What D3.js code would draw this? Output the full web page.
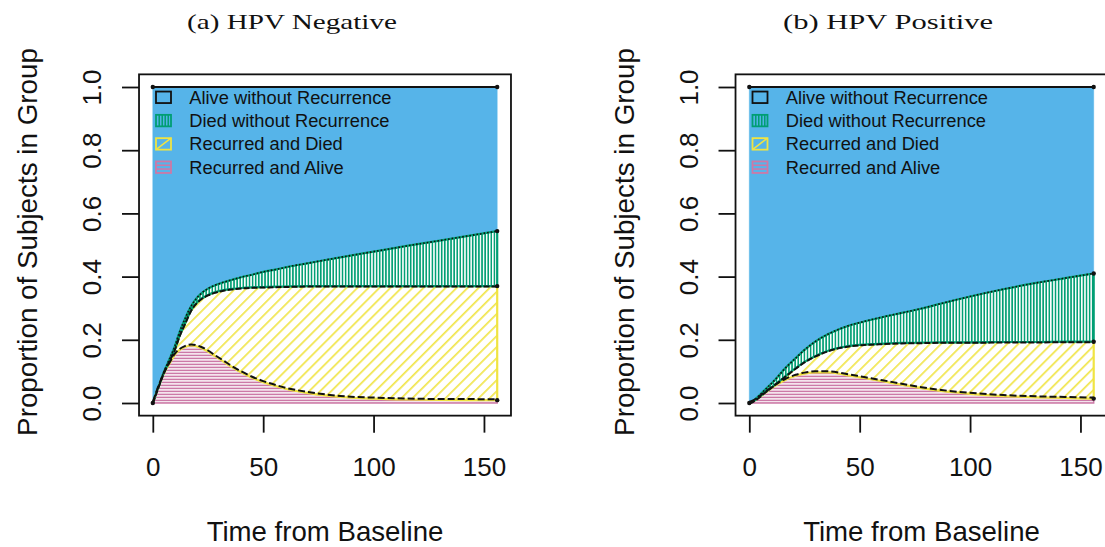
<!DOCTYPE html>
<html>
<head>
<meta charset="utf-8">
<script src="https://cdn.jsdelivr.net/npm/d3@7"></script>
<style>
  html, body { margin: 0; padding: 0; background: #fff; }
  svg { display: block; }
</style>
</head>
<body>
<svg id="chart" width="1105" height="547"></svg>
<script>
// ---------------- DATA ----------------
// Time grid (months from baseline) and cumulative stacked proportions.
// recAlive  = top of "Recurred and Alive"
// recDied   = top of "Recurred and Died" (cumulative)
// diedNoRec = top of "Died without Recurrence" (cumulative); above it: "Alive without Recurrence" up to 1
const negTimes     = [0, 1, 2, 3.3, 4.5, 5.5, 7, 8, 10, 12, 14.5, 17.5, 20, 22, 25, 28, 32, 36, 40, 45, 50, 56, 62, 70, 77, 85, 100, 115, 130, 156];
const negRecAlive  = [0, 0.02, 0.04, 0.063, 0.085, 0.1, 0.118, 0.13, 0.153, 0.167, 0.177, 0.182, 0.179, 0.174, 0.163, 0.149, 0.131, 0.113, 0.097, 0.08, 0.066, 0.053, 0.042, 0.032, 0.025, 0.019, 0.014, 0.011, 0.0095, 0.009];
const negRecDied   = [0, 0.02, 0.04, 0.064, 0.087, 0.103, 0.125, 0.14, 0.17, 0.21, 0.25, 0.295, 0.318, 0.33, 0.342, 0.35, 0.357, 0.361, 0.364, 0.366, 0.367, 0.368, 0.369, 0.37, 0.37, 0.37, 0.37, 0.37, 0.37, 0.37];
const negDiedNoRec = [0, 0.02, 0.041, 0.065, 0.089, 0.106, 0.13, 0.146, 0.18, 0.222, 0.265, 0.308, 0.333, 0.347, 0.362, 0.372, 0.382, 0.39, 0.398, 0.406, 0.415, 0.423, 0.432, 0.442, 0.451, 0.461, 0.479, 0.497, 0.514, 0.544];

const posTimes     = [0, 2, 4, 7, 11.6, 16, 21, 25, 30, 36, 43, 52, 61, 69, 78, 87, 100, 115, 130, 143, 156];
const posRecAlive  = [0, 0.006, 0.015, 0.031, 0.054, 0.072, 0.086, 0.093, 0.097, 0.097, 0.09, 0.079, 0.068, 0.058, 0.047, 0.038, 0.029, 0.022, 0.018, 0.016, 0.014];
const posRecDied   = [0, 0.006, 0.016, 0.033, 0.058, 0.083, 0.11, 0.13, 0.149, 0.166, 0.178, 0.185, 0.188, 0.19, 0.191, 0.192, 0.192, 0.193, 0.193, 0.194, 0.194];
const posDiedNoRec = [0, 0.008, 0.02, 0.041, 0.073, 0.108, 0.142, 0.168, 0.195, 0.219, 0.24, 0.258, 0.273, 0.285, 0.299, 0.315, 0.337, 0.36, 0.38, 0.395, 0.41];

const panelTitles  = ["(a) HPV Negative", "(b) HPV Positive"];
const legendLabels = ["Alive without Recurrence", "Died without Recurrence", "Recurred and Died", "Recurred and Alive"];
const xTicks       = [0, 50, 100, 150];
const yTicks       = [0, 0.2, 0.4, 0.6, 0.8, 1.0];
const yTickLabels  = ["0.0", "0.2", "0.4", "0.6", "0.8", "1.0"];
const xLabel = "Time from Baseline";
const yLabel = "Proportion of Subjects in Group";
const tMax = 156;

// ---------------- STYLE ----------------
const COL = { blue: "#56B4E9", green: "#009E73", yellow: "#F0E442", pink: "#CC79A7" };
const SANS = "'Liberation Sans', Arial, Helvetica, sans-serif";
const SERIF = "'Liberation Serif', 'DejaVu Serif', serif";

const svg = d3.select("#chart");
const defs = svg.append("defs");

// hatch patterns
const pPink = defs.append("pattern").attr("id", "hPink").attr("patternUnits", "userSpaceOnUse")
  .attr("width", 10).attr("height", 3);
pPink.append("rect").attr("width", 10).attr("height", 3).attr("fill", "#fff");
pPink.append("rect").attr("y", 0.6).attr("width", 10).attr("height", 1.6).attr("fill", COL.pink);

const pGreen = defs.append("pattern").attr("id", "hGreen").attr("patternUnits", "userSpaceOnUse")
  .attr("width", 3.1).attr("height", 10);
pGreen.append("rect").attr("width", 3.1).attr("height", 10).attr("fill", "#fff");
pGreen.append("rect").attr("x", 0.7).attr("width", 1.6).attr("height", 10).attr("fill", COL.green);

const pYellow = defs.append("pattern").attr("id", "hYellow").attr("patternUnits", "userSpaceOnUse")
  .attr("width", 10).attr("height", 7.8).attr("patternTransform", "rotate(-45)");
pYellow.append("rect").attr("width", 10).attr("height", 7.8).attr("fill", "#fff");
pYellow.append("rect").attr("y", 3).attr("width", 10).attr("height", 1.6).attr("fill", COL.yellow);

const panels = [
  { off: 0,     title: panelTitles[0], t: negTimes, c1: negRecAlive, c2: negRecDied, c3: negDiedNoRec, titleX: 292 },
  { off: 596.5, title: panelTitles[1], t: posTimes, c1: posRecAlive, c2: posRecDied, c3: posDiedNoRec, titleX: 888 }
];

panels.forEach(p => {
  const g = svg.append("g");
  const x = d3.scaleLinear().domain([0, tMax]).range([152.8 + p.off, 497.2 + p.off]);
  const y = d3.scaleLinear().domain([0, 1]).range([403, 87]);
  const bx0 = x(-0.04 * tMax), bx1 = x(1.04 * tMax), by0 = y(1.04), by1 = y(-0.04);

  const idx = d3.range(p.t.length);
  const curve = d3.curveMonotoneX;
  const area = (lo, hi) => d3.area().curve(curve).x(i => x(p.t[i])).y0(i => y(lo(i))).y1(i => y(hi(i)));
  const line = (f) => d3.line().curve(curve).x(i => x(p.t[i])).y(i => y(f(i)));

  // Alive without recurrence (blue)
  g.append("path").attr("d", area(i => p.c3[i], i => 1)(idx)).attr("fill", COL.blue).attr("stroke", COL.blue).attr("stroke-width", 0.5);
  // Recurred and alive (pink)
  g.append("path").attr("d", area(i => 0, i => p.c1[i])(idx)).attr("fill", "url(#hPink)")
    .attr("stroke", COL.pink).attr("stroke-width", 1.5);
  // Recurred and died (yellow)
  g.append("path").attr("d", area(i => p.c1[i], i => p.c2[i])(idx)).attr("fill", "url(#hYellow)")
    .attr("stroke", COL.yellow).attr("stroke-width", 2.2);
  // Died without recurrence (green)
  g.append("path").attr("d", area(i => p.c2[i], i => p.c3[i])(idx)).attr("fill", "url(#hGreen)")
    .attr("stroke", COL.green).attr("stroke-width", 2.2);

  // boundary lines
  g.append("path").attr("d", line(i => p.c1[i])(idx)).attr("fill", "none").attr("stroke", "#111")
    .attr("stroke-width", 2).attr("stroke-dasharray", "7,3").attr("transform", "translate(0,-1)");
  g.append("path").attr("d", line(i => p.c2[i])(idx)).attr("fill", "none").attr("stroke", "#111")
    .attr("stroke-width", 2).attr("stroke-dasharray", "6,2").attr("transform", "translate(0,0.5)");
  g.append("path").attr("d", line(i => p.c3[i])(idx)).attr("fill", "none").attr("stroke", "#111")
    .attr("stroke-width", 1.6).attr("stroke-dasharray", "1.6,2");
  g.append("path").attr("d", line(i => 1)(idx)).attr("fill", "none").attr("stroke", "#111").attr("stroke-width", 2.2);

  // end points
  const last = p.t.length - 1;
  const pts = [[0, 0], [0, 1], [p.t[last], 1], [p.t[last], p.c1[last]], [p.t[last], p.c2[last]], [p.t[last], p.c3[last]]];
  g.selectAll("circle.pt").data(pts).enter().append("circle").attr("class", "pt")
    .attr("cx", d => x(d[0])).attr("cy", d => y(d[1])).attr("r", 2.2).attr("fill", "#111");

  // frame
  g.append("rect").attr("x", bx0).attr("y", by0).attr("width", bx1 - bx0).attr("height", by1 - by0)
    .attr("fill", "none").attr("stroke", "#111").attr("stroke-width", 1.8);

  // x axis
  const xa = g.append("g").attr("transform", `translate(0,${by1})`)
    .call(d3.axisBottom(x).tickValues(xTicks).tickSize(17).tickFormat(d3.format("d")));
  xa.select(".domain").remove();
  xa.selectAll("line").attr("stroke", "#111").attr("stroke-width", 1.8);
  xa.selectAll("text").attr("y", 476 - by1).attr("dy", 0).attr("fill", "#111")
    .style("font-family", SANS).style("font-size", "26px");

  // y axis
  const ya = g.append("g").attr("transform", `translate(${bx0},0)`)
    .call(d3.axisLeft(y).tickValues(yTicks).tickSize(17).tickFormat((d, i) => yTickLabels[i]));
  ya.select(".domain").remove();
  ya.selectAll("line").attr("stroke", "#111").attr("stroke-width", 1.8);
  ya.selectAll("text").attr("x", 0).attr("y", 0).attr("dy", 0)
    .attr("transform", `translate(${101 + p.off - bx0},0) rotate(-90)`)
    .attr("text-anchor", "middle").attr("fill", "#111")
    .style("font-family", SANS).style("font-size", "26px");

  // axis titles
  g.append("text").attr("x", (bx0 + bx1) / 2).attr("y", 541).attr("text-anchor", "middle")
    .style("font-family", SANS).style("font-size", "27.6px").attr("fill", "#111").text(xLabel);
  g.append("text").attr("transform", `translate(${37 + p.off},${(by0 + by1) / 2 - 3}) rotate(-90)`)
    .attr("text-anchor", "middle").style("font-family", SANS).style("font-size", "27.8px").attr("fill", "#111").text(yLabel);

  // panel title
  g.append("text").attr("x", p.titleX).attr("y", 29).attr("text-anchor", "middle")
    .style("font-family", SERIF).style("font-size", "22px").attr("fill", "#111")
    .attr("textLength", 210).attr("lengthAdjust", "spacingAndGlyphs").text(p.title);

  // legend
  const lg = g.append("g");
  const lx = 156 + p.off, tx = 189.3 + p.off;
  legendLabels.forEach((lab, i) => {
    const cy = 97.3 + i * 23.3;
    const bw = 15, bh = 11.5, x0 = lx, y0 = cy - bh / 2;
    if (i === 0) {
      lg.append("rect").attr("x", x0).attr("y", y0).attr("width", bw).attr("height", bh)
        .attr("fill", "none").attr("stroke", "#111").attr("stroke-width", 1.8);
    } else if (i === 1) {
      [0.25, 0.45, 0.65, 0.85].forEach(f => {
        lg.append("line").attr("x1", x0 + bw * f - 0.5).attr("x2", x0 + bw * f - 0.5).attr("y1", y0).attr("y2", y0 + bh)
          .attr("stroke", COL.green).attr("stroke-width", 1.6);
      });
      lg.append("rect").attr("x", x0).attr("y", y0).attr("width", bw).attr("height", bh)
        .attr("fill", "none").attr("stroke", COL.green).attr("stroke-width", 1.8);
    } else if (i === 2) {
      lg.append("line").attr("x1", x0).attr("y1", y0 + bh).attr("x2", x0 + bw).attr("y2", y0)
        .attr("stroke", COL.yellow).attr("stroke-width", 1.6);
      lg.append("rect").attr("x", x0).attr("y", y0).attr("width", bw).attr("height", bh)
        .attr("fill", "none").attr("stroke", COL.yellow).attr("stroke-width", 1.8);
    } else {
      [0.33, 0.66].forEach(f => {
        lg.append("line").attr("x1", x0).attr("x2", x0 + bw).attr("y1", y0 + bh * f).attr("y2", y0 + bh * f)
          .attr("stroke", COL.pink).attr("stroke-width", 1.6);
      });
      lg.append("rect").attr("x", x0).attr("y", y0).attr("width", bw).attr("height", bh)
        .attr("fill", "none").attr("stroke", COL.pink).attr("stroke-width", 1.8);
    }
    lg.append("text").attr("x", tx).attr("y", cy + 6.5).style("font-family", SANS).style("font-size", "18.3px")
      .attr("fill", "#111").text(lab);
  });
});
</script>
</body>
</html>
